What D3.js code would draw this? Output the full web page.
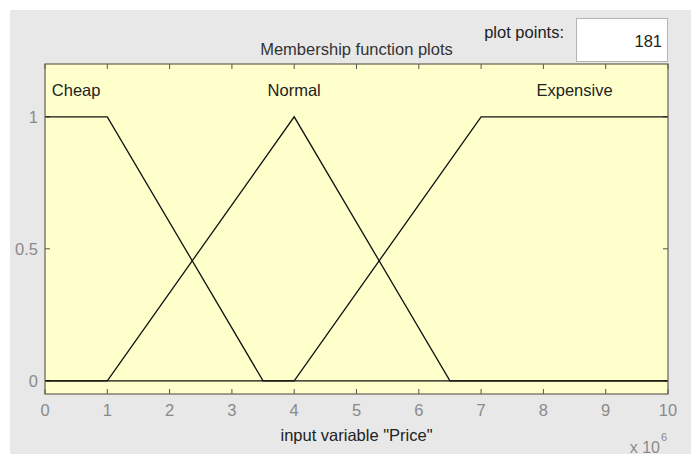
<!DOCTYPE html>
<html>
<head>
<meta charset="utf-8">
<script src="https://cdn.jsdelivr.net/npm/d3@7"></script>
<style>
  body { margin: 0; background: #fff; }
  text { font-family: "Liberation Sans", Arial, sans-serif; }
</style>
</head>
<body>
<div id="chart"></div>
<script>
// membership functions, vertices (x in units of 1e6)
const mfNames = ["Cheap", "Normal", "Expensive"];
const cheapX = [0, 1, 3.5, 10];
const cheapY = [1, 1, 0, 0];
const normalX = [0, 1, 4, 6.5, 10];
const normalY = [0, 0, 1, 0, 0];
const expensiveX = [0, 4, 7, 10];
const expensiveY = [0, 0, 1, 1];

const xTicks = [0, 1, 2, 3, 4, 5, 6, 7, 8, 9, 10];
const yTicks = [0, 0.5, 1];
const yTickLabels = ["0", "0.5", "1"];
const plotPoints = 181;

const width = 691, height = 454;
const margin = {top: 64, right: 23, bottom: 60, left: 45};

const svg = d3.select("#chart").append("svg")
  .attr("width", width)
  .attr("height", height);

// grey figure panel
svg.append("rect")
  .attr("x", 10).attr("y", 10)
  .attr("width", width - 10).attr("height", height - 10)
  .attr("fill", "#e8e8e8");

const x = d3.scaleLinear().domain([0, 10]).range([margin.left, width - margin.right]);
const y = d3.scaleLinear().domain([-0.05, 1.2]).range([height - margin.bottom, margin.top]);

// axes background
svg.append("rect")
  .attr("x", x(0)).attr("y", y(1.2))
  .attr("width", x(10) - x(0)).attr("height", y(-0.05) - y(1.2))
  .attr("fill", "#ffffcc");

// ticks, inside on all sides
const tickLen = 5;
const g = svg.append("g").attr("stroke", "#555").attr("stroke-width", 1);
xTicks.forEach(t => {
  g.append("line").attr("x1", x(t)).attr("x2", x(t)).attr("y1", y(-0.05)).attr("y2", y(-0.05) - tickLen);
  g.append("line").attr("x1", x(t)).attr("x2", x(t)).attr("y1", y(1.2)).attr("y2", y(1.2) + tickLen);
});
yTicks.forEach(t => {
  g.append("line").attr("x1", x(0)).attr("x2", x(0) + tickLen).attr("y1", y(t)).attr("y2", y(t));
  g.append("line").attr("x1", x(10)).attr("x2", x(10) - tickLen).attr("y1", y(t)).attr("y2", y(t));
});

// curves
const line = d3.line().x(d => x(d[0])).y(d => y(d[1]));
const series = [
  {name: mfNames[0], xs: cheapX, ys: cheapY},
  {name: mfNames[1], xs: normalX, ys: normalY},
  {name: mfNames[2], xs: expensiveX, ys: expensiveY}
];
series.forEach(s => {
  const pts = s.xs.map((v, i) => [v, s.ys[i]]);
  svg.append("path")
    .attr("d", line(pts))
    .attr("fill", "none")
    .attr("stroke", "#111")
    .attr("stroke-width", 1.3);

  // label centred over the part where membership is 1
  const top = pts.filter(p => p[1] === 1).map(p => p[0]);
  const cx = d3.mean([d3.min(top), d3.max(top)]);
  svg.append("text")
    .attr("x", x(cx)).attr("y", y(1.1))
    .attr("text-anchor", "middle")
    .attr("dominant-baseline", "central")
    .attr("font-size", 16.5)
    .attr("fill", "#222")
    .text(s.name);
});

// axes box
svg.append("rect")
  .attr("x", x(0)).attr("y", y(1.2))
  .attr("width", x(10) - x(0)).attr("height", y(-0.05) - y(1.2))
  .attr("fill", "none")
  .attr("stroke", "#666050")
  .attr("stroke-width", 1.2);

// tick labels
svg.append("g").selectAll("text")
  .data(xTicks)
  .join("text")
  .attr("x", d => x(d))
  .attr("y", 410)
  .attr("text-anchor", "middle")
  .attr("dominant-baseline", "central")
  .attr("font-size", 16.5)
  .attr("fill", "#8a8a8a")
  .text(d => d);

svg.append("g").selectAll("text")
  .data(yTicks)
  .join("text")
  .attr("x", 38)
  .attr("y", d => y(d))
  .attr("text-anchor", "end")
  .attr("dominant-baseline", "central")
  .attr("font-size", 16.5)
  .attr("fill", "#8a8a8a")
  .text((d, i) => yTickLabels[i]);

// exponent
svg.append("text")
  .attr("x", 660).attr("y", 447)
  .attr("text-anchor", "end")
  .attr("dominant-baseline", "central")
  .attr("font-size", 16)
  .attr("fill", "#8a8a8a")
  .text("x 10");
svg.append("text")
  .attr("x", 661).attr("y", 437)
  .attr("dominant-baseline", "central")
  .attr("font-size", 11)
  .attr("fill", "#8a8a8a")
  .text("6");

// x label and title
svg.append("text")
  .attr("x", (x(0) + x(10)) / 2).attr("y", 435)
  .attr("text-anchor", "middle")
  .attr("dominant-baseline", "central")
  .attr("font-size", 16.5)
  .attr("fill", "#222")
  .text('input variable "Price"');

svg.append("text")
  .attr("x", (x(0) + x(10)) / 2).attr("y", 49)
  .attr("text-anchor", "middle")
  .attr("dominant-baseline", "central")
  .attr("font-size", 16.5)
  .attr("fill", "#333")
  .text("Membership function plots");

// plot points control
svg.append("text")
  .attr("x", 564).attr("y", 32)
  .attr("text-anchor", "end")
  .attr("dominant-baseline", "central")
  .attr("font-size", 16.5)
  .attr("fill", "#222")
  .text("plot points:");

svg.append("rect")
  .attr("x", 576.5).attr("y", 18.5)
  .attr("width", 91).attr("height", 43)
  .attr("fill", "#fff")
  .attr("stroke", "#b4b4b4")
  .attr("stroke-width", 1);

svg.append("text")
  .attr("x", 662).attr("y", 41)
  .attr("text-anchor", "end")
  .attr("dominant-baseline", "central")
  .attr("font-size", 16.5)
  .attr("fill", "#222")
  .text(plotPoints);
</script>
</body>
</html>
